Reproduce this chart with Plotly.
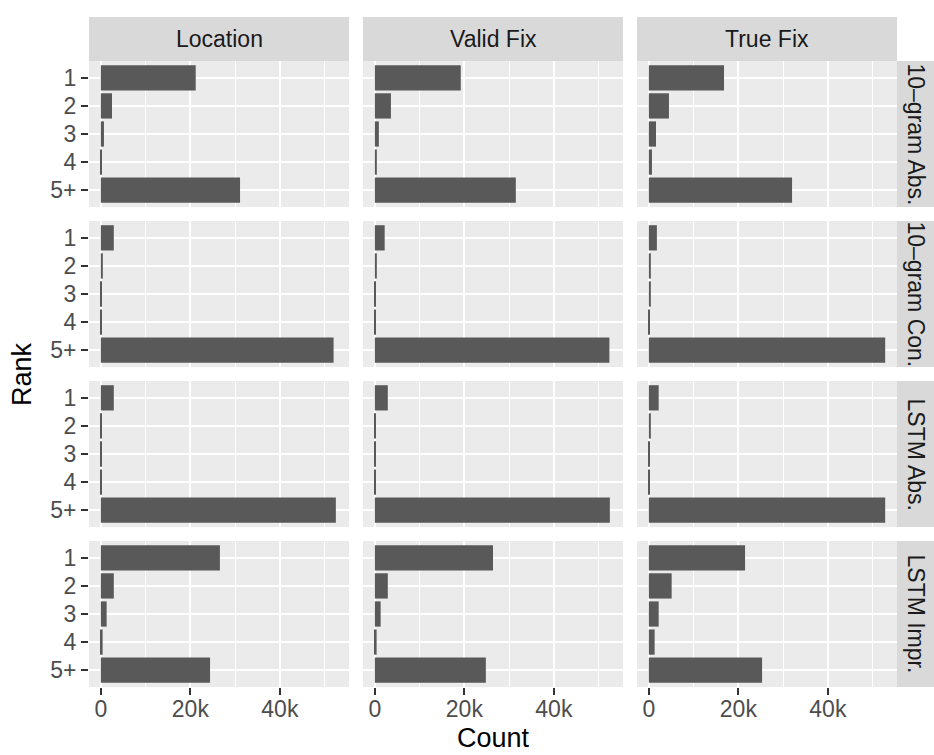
import plotly.graph_objects as go

# ---------------- data ----------------
ranks = ["1", "2", "3", "4", "5+"]
metrics = ["Location", "Valid Fix", "True Fix"]
models = ["10–gram Abs.", "10–gram Con.", "LSTM Abs.", "LSTM Impr."]

ngram_abs_location = [21200, 2500, 700, 150, 31100]
ngram_abs_valid = [19200, 3600, 900, 450, 31500]
ngram_abs_true = [16800, 4500, 1600, 700, 32000]

ngram_con_location = [2900, 450, 150, 100, 52000]
ngram_con_valid = [2200, 450, 150, 150, 52400]
ngram_con_true = [1800, 450, 450, 150, 52800]

lstm_abs_location = [2900, 100, 100, 100, 52500]
lstm_abs_valid = [2900, 200, 200, 200, 52500]
lstm_abs_true = [2200, 450, 150, 150, 52800]

lstm_impr_location = [26600, 2900, 1300, 400, 24400]
lstm_impr_valid = [26400, 2900, 1300, 400, 24800]
lstm_impr_true = [21500, 5100, 2200, 1300, 25300]

x_tickvals = [0, 20000, 40000]
x_ticktext = ["0", "20k", "40k"]

grid = [
    [ngram_abs_location, ngram_abs_valid, ngram_abs_true],
    [ngram_con_location, ngram_con_valid, ngram_con_true],
    [lstm_abs_location, lstm_abs_valid, lstm_abs_true],
    [lstm_impr_location, lstm_impr_valid, lstm_impr_true],
]

# ---------------- layout geometry (pixels) ----------------
W, H = 934, 755
FONT = "Liberation Sans, Arial, Helvetica, sans-serif"
col_left = [89, 363, 637]
col_w = 260
row_top = [61, 221, 381, 541]
row_h = 146
strip_top = 17
strip_right_w = 37


def px(x):
    return x / W


def py(y):
    return 1 - y / H


xmax = max(max(v) for row in grid for v in row)
xrange = [-0.05 * xmax, 1.05 * xmax]

fig = go.Figure()
layout = {}
shapes = []
annotations = []

for r in range(4):
    for c in range(3):
        idx = r * 3 + c + 1
        xa = "x" if idx == 1 else f"x{idx}"
        ya = "y" if idx == 1 else f"y{idx}"
        fig.add_trace(go.Bar(
            x=grid[r][c], y=ranks, orientation="h",
            marker=dict(color="#595959", line=dict(width=0)),
            width=0.9, xaxis=xa, yaxis=ya, showlegend=False,
            hoverinfo="x+y",
        ))
        xkey = "xaxis" if idx == 1 else f"xaxis{idx}"
        ykey = "yaxis" if idx == 1 else f"yaxis{idx}"
        bottom = r == 3
        left = c == 0
        layout[xkey] = dict(
            domain=[px(col_left[c]), px(col_left[c] + col_w)],
            anchor=ya, range=xrange, automargin=False,
            tickvals=x_tickvals, ticktext=x_ticktext,
            showticklabels=bottom,
            ticks="outside" if bottom else "",
            ticklen=7, tickwidth=2.2, tickcolor="#333333",
            ticklabelstandoff=-6,
            tickfont=dict(family=FONT, size=23, color="#4D4D4D"),
            showgrid=True, gridcolor="white", gridwidth=2.4,
            minor=dict(tickvals=[10000, 30000, 50000], showgrid=True,
                       gridcolor="white", gridwidth=1.2, ticks=""),
            zeroline=False, showline=False, fixedrange=True,
        )
        layout[ykey] = dict(
            domain=[py(row_top[r] + row_h), py(row_top[r])],
            anchor=xa, type="category", automargin=False,
            categoryorder="array", categoryarray=ranks,
            range=[4.6, -0.6],
            showticklabels=left,
            ticks="outside" if left else "",
            ticklen=7, tickwidth=2.2, tickcolor="#333333",
            tickfont=dict(family=FONT, size=23, color="#4D4D4D"),
            showgrid=True, gridcolor="white", gridwidth=2.4,
            zeroline=False, showline=False, fixedrange=True,
        )

# panel backgrounds
for r in range(4):
    for c in range(3):
        shapes.append(dict(
            type="rect", xref="paper", yref="paper", layer="below",
            x0=px(col_left[c]), x1=px(col_left[c] + col_w),
            y0=py(row_top[r] + row_h), y1=py(row_top[r]),
            fillcolor="#EBEBEB", line=dict(width=0),
        ))

# top strips
for c, m in enumerate(metrics):
    shapes.append(dict(
        type="rect", xref="paper", yref="paper", layer="below",
        x0=px(col_left[c]), x1=px(col_left[c] + col_w),
        y0=py(row_top[0]), y1=py(strip_top),
        fillcolor="#D9D9D9", line=dict(width=0),
    ))
    annotations.append(dict(
        text=m, xref="paper", yref="paper",
        x=px(col_left[c] + col_w / 2), y=py((strip_top + row_top[0]) / 2),
        xanchor="center", yanchor="middle", showarrow=False,
        font=dict(family=FONT, size=23, color="#1A1A1A"),
    ))

# right strips
sx0 = col_left[2] + col_w
for r, m in enumerate(models):
    shapes.append(dict(
        type="rect", xref="paper", yref="paper", layer="below",
        x0=px(sx0), x1=px(sx0 + strip_right_w),
        y0=py(row_top[r] + row_h), y1=py(row_top[r]),
        fillcolor="#D9D9D9", line=dict(width=0),
    ))
    annotations.append(dict(
        text=m, xref="paper", yref="paper", textangle=90,
        x=px(sx0 + strip_right_w / 2), y=py(row_top[r] + row_h / 2),
        xanchor="center", yanchor="middle", showarrow=False,
        font=dict(family=FONT, size=23, color="#1A1A1A"),
    ))

# axis titles
annotations.append(dict(
    text="Count", xref="paper", yref="paper",
    x=px((col_left[0] + col_left[2] + col_w) / 2), y=py(738),
    xanchor="center", yanchor="middle", showarrow=False,
    font=dict(family=FONT, size=27, color="black"),
))
annotations.append(dict(
    text="Rank", xref="paper", yref="paper", textangle=-90,
    x=px(22), y=py((row_top[0] + row_top[3] + row_h) / 2),
    xanchor="center", yanchor="middle", showarrow=False,
    font=dict(family=FONT, size=27, color="black"),
))

fig.update_layout(
    width=W, height=H,
    margin=dict(l=0, r=0, t=0, b=0, autoexpand=False),
    paper_bgcolor="white", plot_bgcolor="rgba(0,0,0,0)",
    bargap=0.1, showlegend=False,
    shapes=shapes, annotations=annotations,
    **layout,
)

fig.write_html(
    "out.html",
    config={"displayModeBar": False},
    post_script="document.body.style.margin='0';document.body.style.padding='0';"
                "document.body.style.overflow='hidden';",
)
